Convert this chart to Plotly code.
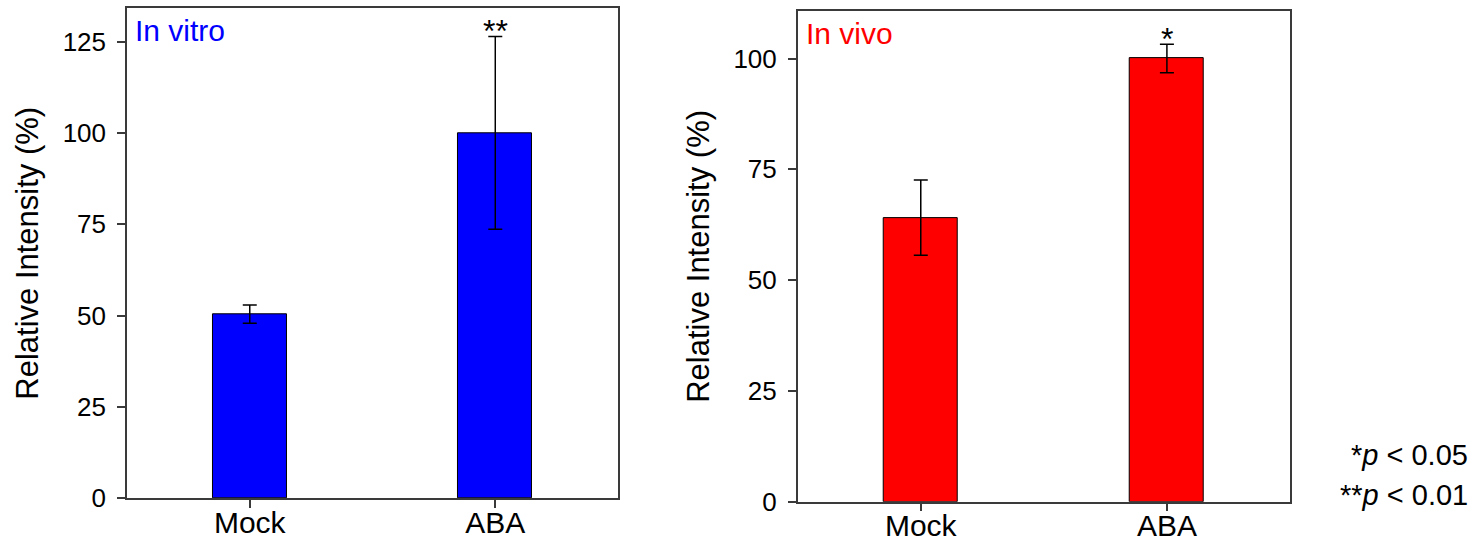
import plotly.graph_objects as go

categories = ["Mock", "ABA"]
vitro_mean = [50.4, 100.0]
vitro_err = [2.5, 26.4]
vivo_mean = [64.1, 100.0]
vivo_err = [8.5, 3.2]
vitro_sig = ["", "**"]
vivo_sig = ["", "*"]
vitro_ticks = [0, 25, 50, 75, 100, 125]
vivo_ticks = [0, 25, 50, 75, 100]
vitro_range = [0, 134.1]
vivo_range = [0, 110.7]

FONT = "Liberation Sans, Arial, sans-serif"
LINE = "#3a3a3a"

fig = go.Figure()

fig.add_trace(go.Bar(
    x=categories, y=vitro_mean, width=0.3,
    marker=dict(color="#0000FF", line=dict(color="#000000", width=1)),
    error_y=dict(type="data", array=vitro_err, color="#000000", thickness=1.5, width=7),
    xaxis="x", yaxis="y", showlegend=False,
))
fig.add_trace(go.Bar(
    x=categories, y=vivo_mean, width=0.3,
    marker=dict(color="#FF0000", line=dict(color="#000000", width=1)),
    error_y=dict(type="data", array=vivo_err, color="#000000", thickness=1.5, width=7),
    xaxis="x2", yaxis="y2", showlegend=False,
))

common_x = dict(
    type="category", range=[-0.5, 1.5], showline=True, mirror=True,
    linecolor=LINE, linewidth=1.5, ticks="outside", ticklen=8, tickwidth=1.5,
    tickcolor=LINE, tickfont=dict(family=FONT, size=30, color="#000"),
    showgrid=False, zeroline=False, ticklabelstandoff=-11, automargin=False,
)
common_y = dict(
    showline=True, mirror=True, linecolor=LINE, linewidth=1.5,
    ticks="outside", ticklen=8, tickwidth=1.5, tickcolor=LINE,
    tickfont=dict(family=FONT, size=26, color="#000"),
    showgrid=False, zeroline=False, ticklabelstandoff=6, automargin=False,
    title=dict(text="Relative Intensity (%)", font=dict(family=FONT, size=31, color="#000"), standoff=15),
)

fig.update_layout(
    width=1480, height=545,
    margin=dict(l=0, r=0, t=0, b=0, pad=0, autoexpand=False),
    paper_bgcolor="white", plot_bgcolor="white",
    bargap=0,
    xaxis=dict(common_x, domain=[0.0858, 0.4176], anchor="y"),
    yaxis=dict(common_y, domain=[0.0857, 0.9848], range=vitro_range,
               tickvals=vitro_ticks, anchor="x"),
    xaxis2=dict(common_x, domain=[0.5390, 0.8716], anchor="y2"),
    yaxis2=dict(common_y, domain=[0.0795, 0.9796], range=vivo_range,
                tickvals=vivo_ticks, anchor="x2"),
)

annotations = [
    dict(text="In vitro", xref="x domain", yref="y domain", x=0.012, y=1.0,
         xanchor="left", yanchor="top", showarrow=False, yshift=-4,
         font=dict(family=FONT, size=30, color="#0000FF")),
    dict(text="In vivo", xref="x2 domain", yref="y2 domain", x=0.012, y=1.0,
         xanchor="left", yanchor="top", showarrow=False, yshift=-4,
         font=dict(family=FONT, size=30, color="#FF0000")),
    dict(text="*<i>p</i> < 0.05", xref="paper", yref="paper", x=0.993, y=0.165,
         xanchor="right", yanchor="middle", showarrow=False,
         font=dict(family=FONT, size=29, color="#000")),
    dict(text="**<i>p</i> < 0.01", xref="paper", yref="paper", x=0.993, y=0.092,
         xanchor="right", yanchor="middle", showarrow=False,
         font=dict(family=FONT, size=29, color="#000")),
]
for cat, m, e, s in zip(categories, vitro_mean, vitro_err, vitro_sig):
    if s:
        annotations.append(dict(text=s, x=cat, y=m + e, xref="x", yref="y",
                                xanchor="center", yanchor="bottom", showarrow=False,
                                yshift=-15, font=dict(family=FONT, size=32, color="#000")))
for cat, m, e, s in zip(categories, vivo_mean, vivo_err, vivo_sig):
    if s:
        annotations.append(dict(text=s, x=cat, y=m + e, xref="x2", yref="y2",
                                xanchor="center", yanchor="bottom", showarrow=False,
                                yshift=-15, font=dict(family=FONT, size=32, color="#000")))
fig.update_layout(annotations=annotations)

fig.write_html("out.html")
